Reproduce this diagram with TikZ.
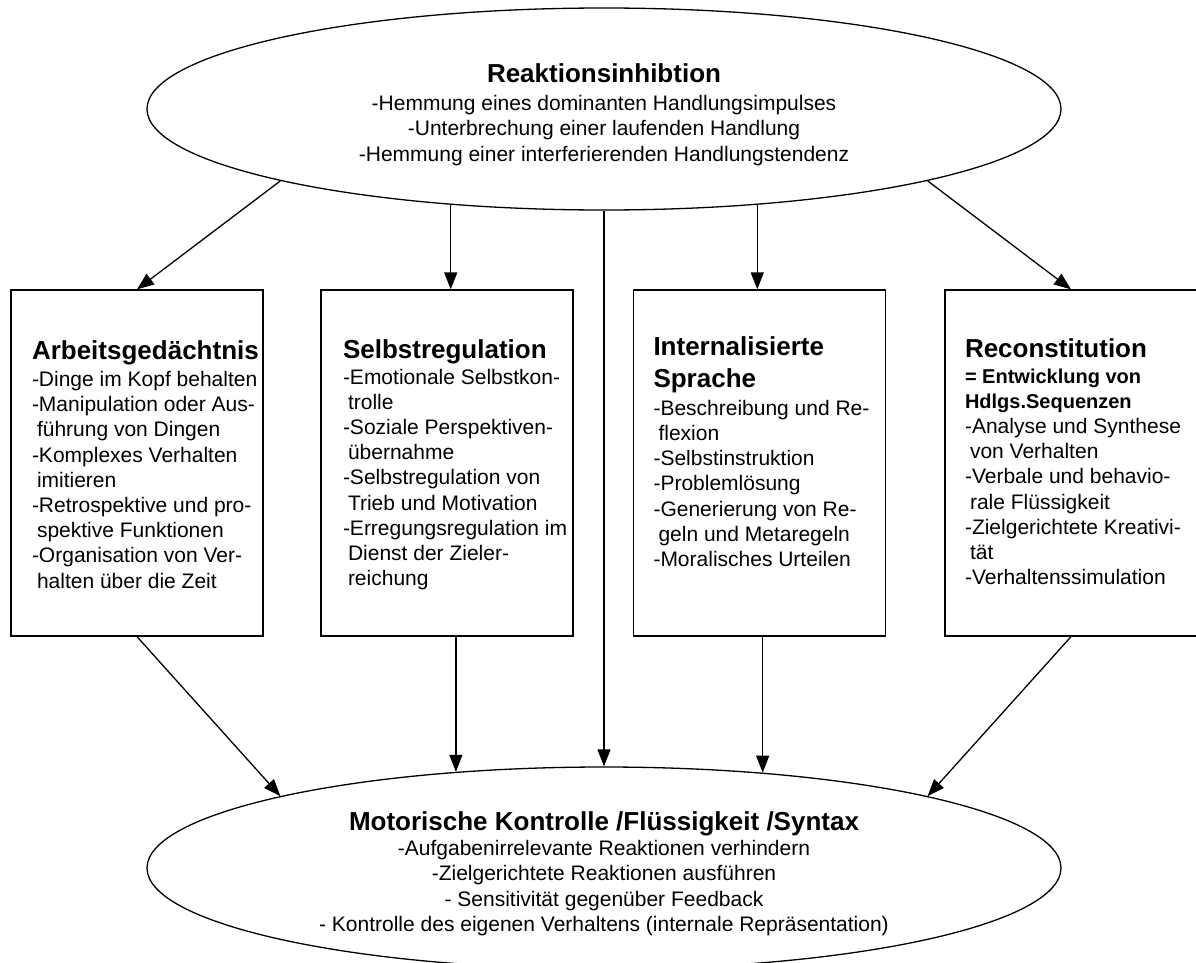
\documentclass[tikz,border=0pt]{standalone}
\usepackage{fontspec}
\setmainfont{Liberation Sans}
\usetikzlibrary{arrows.meta,positioning,shapes.geometric}

\newcommand{\bodyfont}{\fontsize{21}{25.2}\selectfont}
\newcommand{\headfont}{\fontsize{26}{25.2}\selectfont\bfseries}
\newcommand{\subhead}{\fontsize{20}{25.2}\selectfont\bfseries}
\newcommand{\wrp}{\hspace*{5pt}}

\begin{document}
\begin{tikzpicture}[x=1pt, y=-1pt, line width=1.3pt,
    oval/.style = {draw, ellipse, minimum width=914pt, minimum height=202pt, inner sep=0pt, align=center, font=\bodyfont},
    area/.style = {draw, rectangle, minimum width=252pt, minimum height=346pt},
    areatext/.style = {align=left, inner sep=0pt, font=\bodyfont},
    arr/.style = {-{Triangle[length=17pt,width=13pt]}}]
    \clip (0,0) rectangle (1196,963);

    % ellipses
    \node[oval] (react) at (604,109) {\rule{0pt}{30pt}{\headfont Reaktionsinhibtion}\\[3pt]
        -Hemmung eines dominanten Handlungsimpulses\\
        -Unterbrechung einer laufenden Handlung\\
        -Hemmung einer interferierenden Handlungstendenz};
    \node[oval] (motor) at (604,868) {\rule{0pt}{30pt}{\headfont Motorische Kontrolle /Flüssigkeit /Syntax}\\
        -Aufgabenirrelevante Reaktionen verhindern\\
        -Zielgerichtete Reaktionen ausführen\\
        - Sensitivität gegenüber Feedback\\
        - Kontrolle des eigenen Verhaltens (internale Repräsentation)};

    % boxes
    \node[area] (b1) at (137,463) {};
    \node[area] (b2) at (447,463) {};
    \node[area] (b3) at (759.5,463) {};
    \node[area] (b4) at (1071,463) {};

    \node[areatext, below right=51pt and 21pt of b1.north west] (t1) {{\headfont Arbeitsgedächtnis}\\[1.5pt]
        -Dinge im Kopf behalten\\
        -Manipulation oder Aus-\\
        \wrp führung von Dingen\\
        -Komplexes Verhalten\\
        \wrp imitieren\\
        -Retrospektive und pro-\\
        \wrp spektive Funktionen\\
        -Organisation von Ver-\\
        \wrp halten über die Zeit};
    \node[areatext, below right=50pt and 22pt of b2.north west] (t2) {{\headfont Selbstregulation}\\
        -Emotionale Selbstkon-\\
        \wrp trolle\\
        -Soziale Perspektiven-\\
        \wrp übernahme\\
        -Selbstregulation von\\
        \wrp Trieb und Motivation\\
        -Erregungsregulation im\\
        \wrp Dienst der Zieler-\\
        \wrp reichung};
    \node[areatext, below right=47pt and 20pt of b3.north west] (t3) {{\headfont Internalisierte}\\[6pt]
        {\headfont Sprache}\\[3pt]
        -Beschreibung und Re-\\
        \wrp flexion\\
        -Selbstinstruktion\\
        -Problemlösung\\
        -Generierung von Re-\\
        \wrp geln und Metaregeln\\
        -Moralisches Urteilen};
    \node[areatext, below right=49pt and 20pt of b4.north west] (t4) {{\headfont Reconstitution}\\
        {\subhead = Entwicklung von}\\
        {\subhead Hdlgs.Sequenzen}\\
        -Analyse und Synthese\\
        \wrp von Verhalten\\
        -Verbale und behavio-\\
        \wrp rale Flüssigkeit\\
        -Zielgerichtete Kreativi-\\
        \wrp tät\\
        -Verhaltenssimulation};

    % arrows
    \draw[arr] (react.south west) -- (b1.north);
    \draw[arr] (react.212) -- (react.212 |- b2.north);
    \draw[arr] (react) -- (motor);
    \draw[arr] (react.328) -- (react.328 |- b3.north);
    \draw[arr] (react.south east) -- (b4.north);
    \draw[arr] (b1.south) -- (motor.north west);
    \draw[arr] (motor.147 |- b2.south) -- (motor.147);
    \draw[arr] (motor.31 |- b3.south) -- (motor.31);
    \draw[arr] (b4.south) -- (motor.north east);
\end{tikzpicture}
\end{document}
